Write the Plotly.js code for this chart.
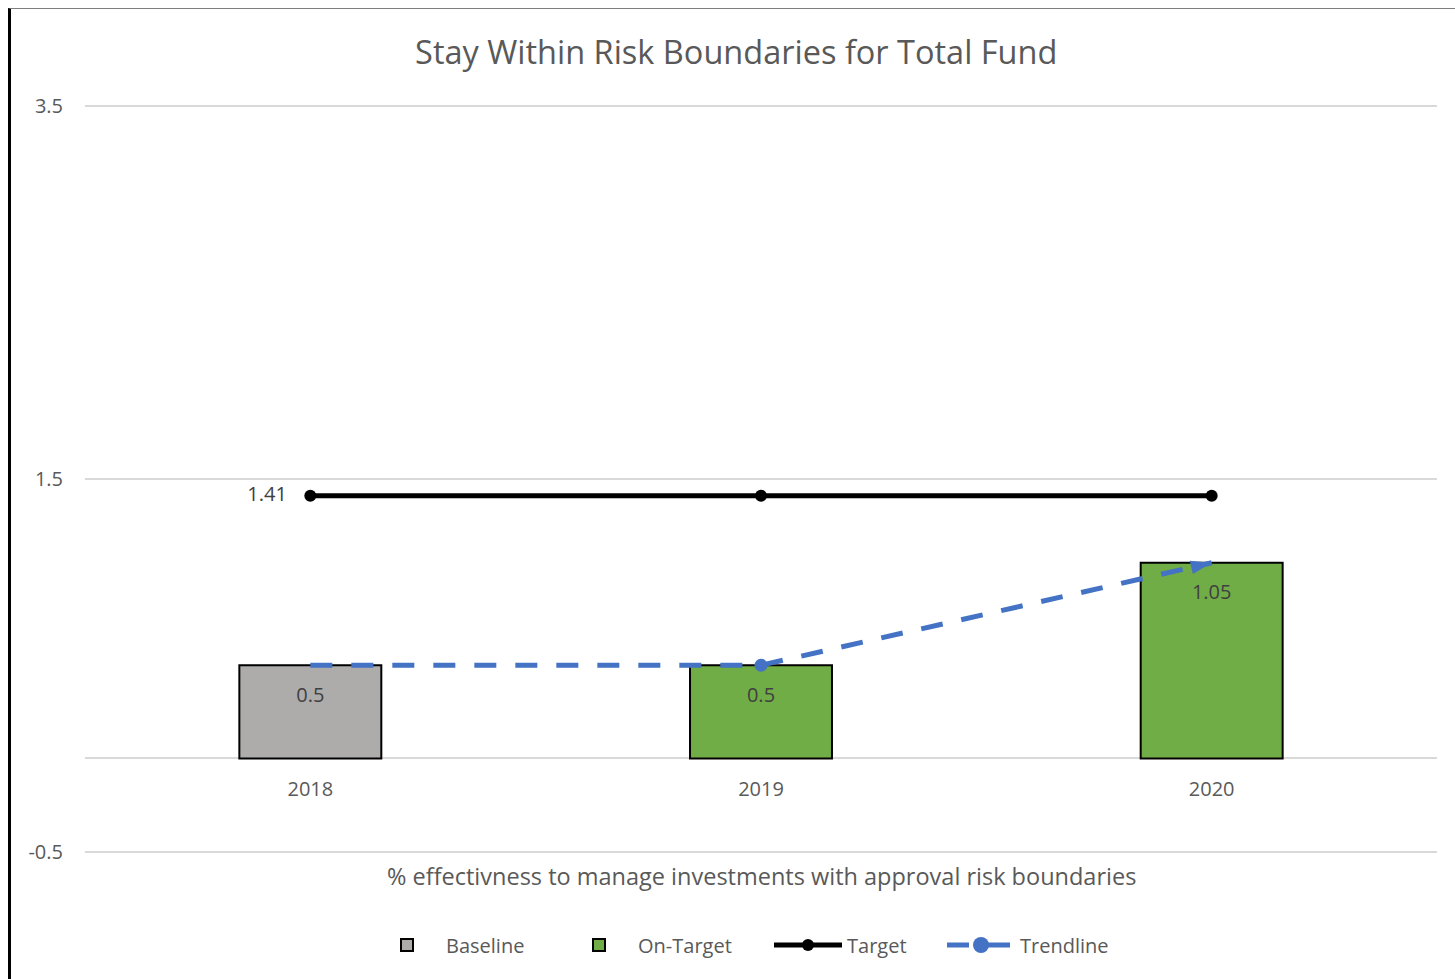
<!DOCTYPE html>
<html>
<head>
<meta charset="utf-8">
<script src="https://cdn.plot.ly/plotly-3.0.1.min.js"></script>
<style>
  html, body { margin: 0; padding: 0; background: #fff; }
  #chart { width: 1455px; height: 979px; }
  #frame { position: absolute; left: 8px; top: 8px; width: 1460px; height: 990px;
           border-left: 3px solid #000; border-top: 1px solid #7f7f7f; pointer-events: none; }
</style>
</head>
<body>
<div id="chart"></div>
<div id="frame"></div>
<script>
const years = ['2018', '2019', '2020'];
const baselineValues = [0.5, null, null];
const onTargetValues = [null, 0.5, 1.05];
const targetValues = [1.41, 1.41, 1.41];
const trendValues = [0.5, 0.5, 1.05];
const barLabels = ['0.5', '0.5', '1.05'];
const barLabelValues = [0.5, 0.5, 1.05];
const targetLabels = ['1.41', '', ''];
const yTickVals = [-0.5, 1.5, 3.5];
const yTickText = ['-0.5', '1.5', '3.5'];

const FONT = 'Open Sans, Noto Sans, sans-serif';
const TXT = '#595959';
const LBL = '#404040';
const yRange = [-0.508, 3.508];

const traces = [
  { type: 'bar', name: 'Baseline', x: years, y: baselineValues, width: 0.315, legendwidth: 109,
    marker: { color: '#AEABAB', line: { color: '#000', width: 2 } }, hoverinfo: 'skip' },
  { type: 'bar', name: 'On-Target', x: years, y: onTargetValues, width: 0.315, legendwidth: 126,
    marker: { color: '#70AD47', line: { color: '#000', width: 2 } }, hoverinfo: 'skip' },
  { type: 'scatter', mode: 'lines+markers', name: 'Target', x: years, y: targetValues, legendwidth: 90,
    line: { color: '#000', width: 5 }, marker: { color: '#000', size: 12, line: { width: 0 } } },
  { type: 'scatter', mode: 'lines+markers', name: 'Trendline', x: years, y: trendValues, legendwidth: 92,
    line: { color: '#4472C4', width: 5, dash: '22px,19px' },
    marker: { color: '#4472C4', opacity: 1, size: [13, 13, 22], symbol: ['circle', 'circle', 'arrow'],
      angleref: 'previous', line: { width: 0 } } },
  // data labels (bar values, inside end)
  { type: 'scatter', mode: 'markers+text', x: years, y: barLabelValues, text: barLabels,
    textposition: 'bottom center', showlegend: false, hoverinfo: 'skip', cliponaxis: false,
    marker: { size: 33, opacity: 0 }, textfont: { family: FONT, size: 20, color: LBL } },
  // data label for target (left of first point)
  { type: 'scatter', mode: 'markers+text', x: years, y: targetValues, text: targetLabels,
    textposition: 'middle left', showlegend: false, hoverinfo: 'skip', cliponaxis: false,
    marker: { size: 36, opacity: 0 }, textfont: { family: FONT, size: 20, color: LBL } }
];

const zeroFrac = (0 - yRange[0]) / (yRange[1] - yRange[0]);

const layout = {
  width: 1455, height: 979,
  margin: { l: 85, r: 18, t: 105, b: 126 },
  paper_bgcolor: '#fff', plot_bgcolor: '#fff',
  font: { family: FONT, color: TXT, size: 20 },
  title: { text: 'Stay Within Risk Boundaries for Total Fund', x: 0.506, xref: 'container',
    y: 1 - 53 / 979, yref: 'container', yanchor: 'middle', xanchor: 'center',
    font: { family: FONT, size: 32.5, color: TXT } },
  barmode: 'overlay',
  showlegend: true,
  legend: { orientation: 'h', xref: 'container', yref: 'container', x: 368 / 1455, xanchor: 'left',
    y: 1 - 945 / 979, yanchor: 'middle', font: { family: FONT, size: 20, color: TXT },
    itemwidth: 68, traceorder: 'normal' },
  xaxis: { type: 'category', range: [-0.5, 2.5], anchor: 'free', position: zeroFrac,
    showgrid: false, zeroline: false, showline: false,
    ticks: 'outside', ticklen: 13, tickcolor: 'rgba(0,0,0,0)',
    tickfont: { family: FONT, size: 20, color: TXT } },
  yaxis: { range: yRange, tickmode: 'array', tickvals: yTickVals, ticktext: yTickText,
    showgrid: true, gridcolor: '#D9D9D9', gridwidth: 2,
    zeroline: true, zerolinecolor: '#D9D9D9', zerolinewidth: 2, showline: false,
    ticks: 'outside', ticklen: 17, tickcolor: 'rgba(0,0,0,0)',
    tickfont: { family: FONT, size: 20, color: TXT } },
  annotations: [{ x: 0.5, y: (852 - 875) / 748, xref: 'paper', yref: 'paper', yanchor: 'middle',
    text: '% effectivness to manage investments with approval risk boundaries',
    showarrow: false, font: { family: FONT, size: 23.5, color: TXT } }]
};

Plotly.newPlot('chart', traces, layout, { displayModeBar: false, staticPlot: true });
</script>
</body>
</html>
